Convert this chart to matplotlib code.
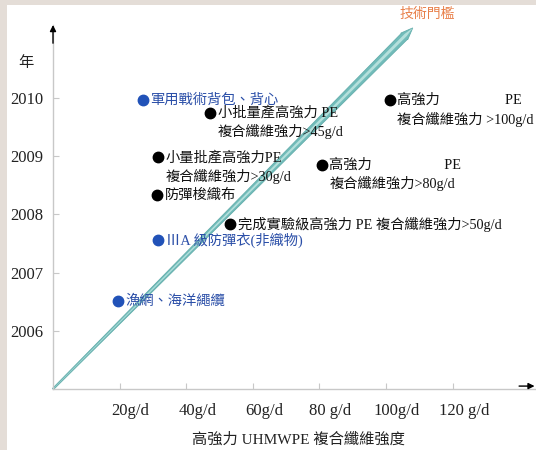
import matplotlib
matplotlib.use("Agg")
import numpy as np
import matplotlib.pyplot as plt
from matplotlib.patches import Rectangle, Polygon
from matplotlib.transforms import ScaledTranslation, IdentityTransform

plt.rcParams['font.family'] = ['Liberation Serif', 'Noto Sans CJK TC', 'DejaVu Sans']

# ---- data ----
x_ticks = [20, 40, 60, 80, 100, 120]
x_tick_labels = ["20g/d", "40g/d", "60g/d", "80 g/d", "100g/d", "120 g/d"]
y_ticks = [2006, 2007, 2008, 2009, 2010]
y_tick_labels = ["2006", "2007", "2008", "2009", "2010"]

blue_x = [27.0, 31.5, 19.5]
blue_y = [2009.96, 2007.56, 2006.51]
blue_labels = ["軍用戰術背包、背心", "ⅢA 級防彈衣(非織物)", "漁網、海洋繩纜"]

black_x = [47.1, 31.5, 31.3, 53.1, 80.7, 101.1]
black_y = [2009.74, 2008.98, 2008.33, 2007.83, 2008.85, 2009.96]
black_labels = [
    "小批量產高強力 PE\n複合纖維強力>45g/d",
    "小量批產高強力PE\n複合纖維強力>30g/d",
    "防彈梭織布",
    "完成實驗級高強力 PE 複合纖維強力>50g/d",
    "高強力                    PE\n複合纖維強力>80g/d",
    "高強力                  PE\n複合纖維強力 >100g/d",
]

threshold_start = (0, 2005)
threshold_end = (108, 2011.2)
threshold_label = "技術門檻"
x_label = "高強力 UHMWPE 複合纖維強度"
y_label = "年"

# ---- figure ----
W, H = 536, 450
fig = plt.figure(figsize=(W / 100, H / 100), dpi=100)
fig.patch.set_facecolor('#e4ddd7')
fig.add_artist(Rectangle((7 / W, 0), 1, (H - 5) / H, transform=fig.transFigure,
                         facecolor='white', edgecolor='none', zorder=0))

ax = fig.add_axes([53 / W, (H - 389) / H, (W - 53) / W, 364 / H])
ax.set_facecolor('none')
ax.set_xlim(0, 145)
ax.set_ylim(2005, 2011.25)
for s in ['top', 'right']:
    ax.spines[s].set_visible(False)
for s in ['left', 'bottom']:
    ax.spines[s].set_color('#c8c8c8')
    ax.spines[s].set_linewidth(1.0)

ax.set_xticks(x_ticks)
ax.set_xticklabels(x_tick_labels)
ax.set_yticks(y_ticks)
ax.set_yticklabels(y_tick_labels)
ax.tick_params(axis='both', direction='in', length=4, width=0.8, color='#c8c8c8',
               labelsize=12, labelcolor='#222222')
ax.tick_params(axis='x', pad=10)
ax.tick_params(axis='y', pad=7)
off = ScaledTranslation(0.11, 0, fig.dpi_scale_trans)
for lab in ax.get_xticklabels():
    lab.set_transform(lab.get_transform() + off)

# axis arrow heads
ax.annotate('', xy=(0, 1.0), xytext=(0, 0.95), xycoords='axes fraction',
            arrowprops=dict(arrowstyle='-|>', color='black', lw=1, mutation_scale=9,
                            shrinkA=0, shrinkB=0), annotation_clip=False)
ax.annotate('', xy=(0.997, 0.008), xytext=(0.965, 0.008), xycoords='axes fraction',
            arrowprops=dict(arrowstyle='-|>', color='black', lw=1, mutation_scale=9,
                            shrinkA=0, shrinkB=0), annotation_clip=False)

# threshold band: tapered wedge in pixel space, from the data endpoints
p0 = ax.transData.transform(threshold_start)
p1 = ax.transData.transform(threshold_end)
d = (p1 - p0) / np.linalg.norm(p1 - p0)
n = np.array([-d[1], d[0]])
L = np.linalg.norm(p1 - p0)

def band(w0, w1, head_w, head_len):
    base = p1 - d * head_len
    pts = [p0 + n * w0 / 2, base + n * w1 / 2, base + n * head_w / 2, p1,
           base - n * head_w / 2, base - n * w1 / 2, p0 - n * w0 / 2]
    return np.array(pts)

ax.add_patch(Polygon(band(1.5, 8.5, 9.5, 12), closed=True, transform=IdentityTransform(),
                     facecolor='#72bcba', edgecolor='#63adab', lw=0.6, zorder=2, clip_on=False))
ax.add_patch(Polygon(band(0.3, 3.0, 3.0, 10), closed=True, transform=IdentityTransform(),
                     facecolor='#b4e0dc', edgecolor='none', zorder=2.1, clip_on=False))

fig.text(427 / W, 1 - 14 / H, threshold_label, color='#e8804a', fontsize=10,
         ha='center', va='center')

# points
ax.plot(blue_x, blue_y, 'o', color='#2152b8', ms=7.5, zorder=4, clip_on=False)
ax.plot(black_x, black_y, 'o', color='black', ms=7.5, zorder=4, clip_on=False)

def put_labels(xs, ys, labels, color):
    for x, y, lab in zip(xs, ys, labels):
        for i, line in enumerate(lab.split('\n')):
            ax.annotate(line, xy=(x, y), xytext=(5.5, -13.7 * i), textcoords='offset points',
                        ha='left', va='center', fontsize=10.3, color=color, zorder=5,
                        annotation_clip=False)

put_labels(blue_x, blue_y, blue_labels, '#2b4fa8')
put_labels(black_x, black_y, black_labels, '#111111')

fig.text(298 / W, 1 - 440 / H, x_label, fontsize=11, ha='center', va='center', color='#222222')
fig.text(26 / W, 1 - 63 / H, y_label, fontsize=11, ha='center', va='center', color='#222222')

fig.savefig('out.png', dpi=100, facecolor=fig.get_facecolor())
